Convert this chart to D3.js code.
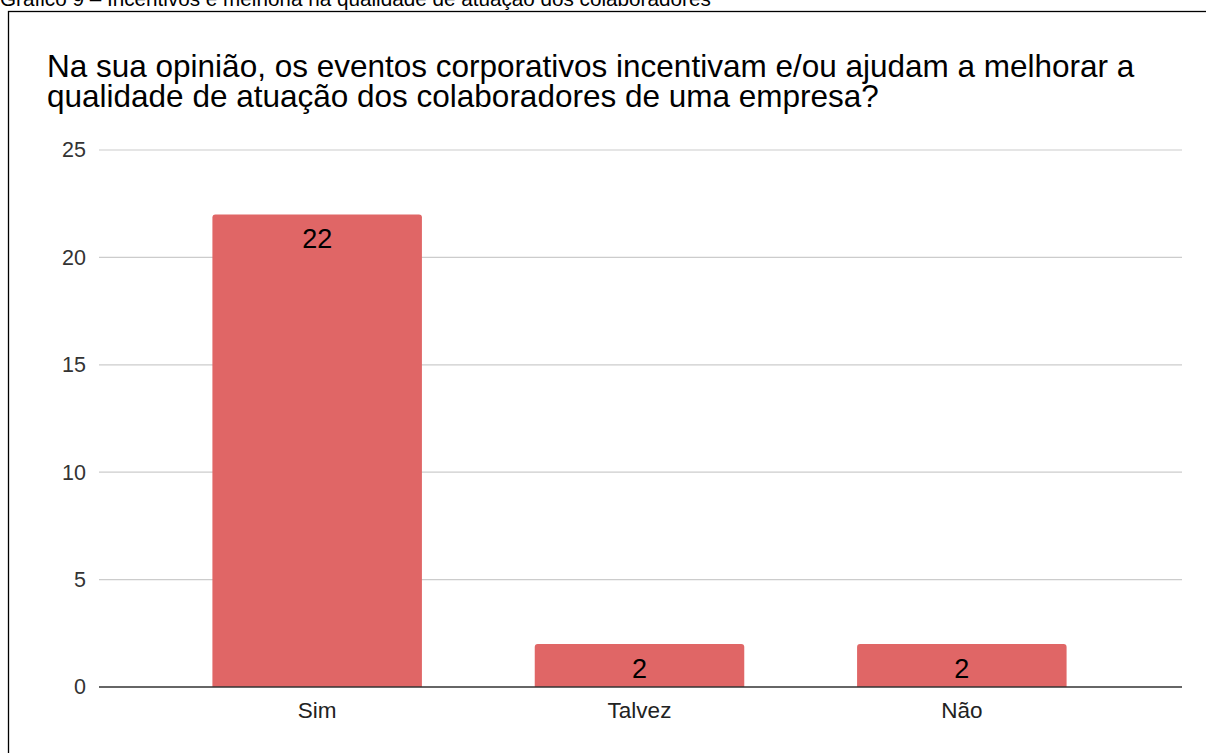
<!DOCTYPE html>
<html>
<head>
<meta charset="utf-8">
<script src="https://cdn.jsdelivr.net/npm/d3@7"></script>
<style>
  body { margin: 0; background: #fff; }
  svg { display: block; font-family: "Liberation Sans", Arial, sans-serif; }
</style>
</head>
<body>
<svg id="chart"></svg>
<script>
const categories = ["Sim", "Talvez", "Não"]
const answers = [22, 2, 2]
const yTicks = [0, 5, 10, 15, 20, 25]
const caption = "Gráfico 9 – Incentivos e melhoria na qualidade de atuação dos colaboradores"
const titleLines = [
    "Na sua opinião, os eventos corporativos incentivam e/ou ajudam a melhorar a",
    "qualidade de atuação dos colaboradores de uma empresa?"
]

const width = 1206
const height = 753

const svg = d3.select("#chart")
    .attr("width", width)
    .attr("height", height)

// caption above the frame (it is cut off at the top of the page in the source too)
svg.append("text")
    .attr("x", 0)
    .attr("y", 6)
    .attr("font-size", 20.7)
    .attr("fill", "#000")
    .text(caption)

// frame
svg.append("rect")
    .attr("x", 8.5)
    .attr("y", 11.5)
    .attr("width", 1210)
    .attr("height", 760)
    .attr("fill", "none")
    .attr("stroke", "#000")
    .attr("stroke-width", 1.3)

svg.append("g").selectAll("text")
    .data(titleLines)
    .join("text")
    .attr("x", 47)
    .attr("y", (d, i) => 76.5 + i * 30.5)
    .attr("font-size", 31.5)
    .attr("fill", "#000")
    .text(d => d)

let yScale = d3.scaleLinear()
    .domain([0, 25])
    .range([687, 150])

let xScale = d3.scaleBand()
    .domain(categories)
    .range([156, 1123])
    .paddingInner(0.35)
    .paddingOuter(0.175)

// grid lines
svg.append("g")
    .selectAll("line")
    .data(yTicks.filter(d => d > 0))
    .join("line")
    .attr("x1", 99)
    .attr("x2", 1182)
    .attr("y1", d => yScale(d))
    .attr("y2", d => yScale(d))
    .attr("stroke", "#cccccc")
    .attr("stroke-width", 1.2)

// y axis labels
let yAxis = svg.append("g")
    .attr("transform", "translate(99,0)")
    .call(d3.axisLeft(yScale).tickValues(yTicks).tickSize(0).tickPadding(13))
yAxis.select(".domain").remove()
yAxis.selectAll("text")
    .attr("font-size", 21.5)
    .attr("font-family", "Liberation Sans, Arial, sans-serif")
    .attr("fill", "#333")

// bars with rounded top corners
const r = 3
svg.append("g")
    .selectAll("path")
    .data(categories.map((c, i) => ({cat: c, value: answers[i]})))
    .join("path")
    .attr("fill", "#e06666")
    .attr("d", d => {
        let x0 = xScale(d.cat)
        let x1 = x0 + xScale.bandwidth()
        let y0 = yScale(0)
        let y1 = yScale(d.value)
        return `M${x0},${y0}V${y1 + r}Q${x0},${y1} ${x0 + r},${y1}H${x1 - r}Q${x1},${y1} ${x1},${y1 + r}V${y0}Z`
    })

// value labels
svg.append("g")
    .selectAll("text")
    .data(categories.map((c, i) => ({cat: c, value: answers[i]})))
    .join("text")
    .attr("x", d => xScale(d.cat) + xScale.bandwidth() / 2)
    .attr("y", d => yScale(d.value) + 34)
    .attr("text-anchor", "middle")
    .attr("font-size", 27)
    .attr("fill", "#000")
    .text(d => d.value)

// baseline
svg.append("line")
    .attr("x1", 99)
    .attr("x2", 1182)
    .attr("y1", yScale(0))
    .attr("y2", yScale(0))
    .attr("stroke", "#333")
    .attr("stroke-width", 1.6)

// x axis labels
let xAxis = svg.append("g")
    .attr("transform", `translate(0,${yScale(0)})`)
    .call(d3.axisBottom(xScale).tickSize(0).tickPadding(15))
xAxis.select(".domain").remove()
xAxis.selectAll("text")
    .attr("font-size", 22.5)
    .attr("font-family", "Liberation Sans, Arial, sans-serif")
    .attr("fill", "#222")
</script>
</body>
</html>
